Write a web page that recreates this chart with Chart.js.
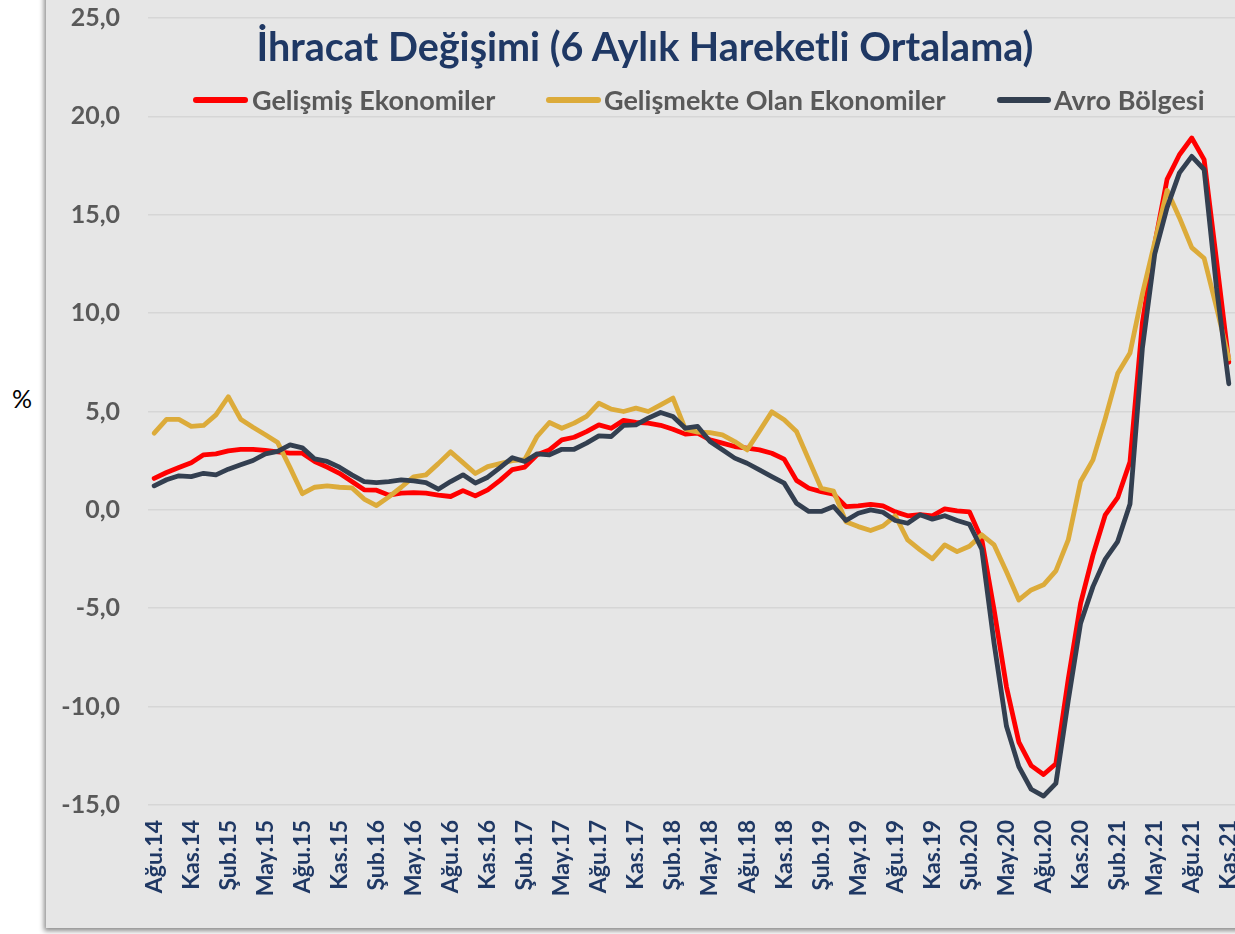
<!DOCTYPE html>
<html>
<head>
<meta charset="utf-8">
<script src="https://cdn.jsdelivr.net/npm/chart.js@4.4.0/dist/chart.umd.min.js"></script>
<style>
  html, body { margin: 0; padding: 0; width: 1235px; height: 934px; overflow: hidden; background: #ffffff; font-family: Lato, "Open Sans", sans-serif; }
  #panel { position: absolute; left: 46px; top: -10px; width: 1220px; height: 938px; background: #e6e6e6; box-shadow: -2px 3px 5px rgba(0,0,0,0.45); overflow: hidden; }
  #wrap { position: absolute; left: 0; top: -15px; width: 1270px; height: 953px; }
  #pct { position: absolute; left: 12px; top: 383px; font-size: 25px; line-height: 30px; color: #000; }
  #title { position: absolute; left: 0; width: 1290px; top: 22px; text-align: center; font-weight: 700; font-size: 39.5px; line-height: 47px; color: #1f3864; white-space: nowrap; }
  .lg { position: absolute; top: 84px; height: 32px; font-weight: 700; font-size: 27px; color: #595959; white-space: nowrap; line-height: 32px; }
  .sw { position: absolute; top: 97px; height: 6px; border-radius: 3px; }
</style>
</head>
<body>
<div id="pct">%</div>
<div id="panel">
  <div id="wrap"><canvas id="c" width="1270" height="953"></canvas></div>
</div>
<div id="title">İhracat Değişimi (6 Aylık Hareketli Ortalama)</div>
<div class="sw" style="left:193px;width:55px;background:#ff0000"></div>
<div class="lg" style="left:252px">Gelişmiş Ekonomiler</div>
<div class="sw" style="left:546px;width:55px;background:#dcab3a"></div>
<div class="lg" style="left:604px">Gelişmekte Olan Ekonomiler</div>
<div class="sw" style="left:997px;width:54px;background:#333f50"></div>
<div class="lg" style="left:1054px">Avro Bölgesi</div>
<script>
const months = [
  "Ağu.14","Eyl.14","Eki.14","Kas.14","Ara.14",
  "Oca.15","Şub.15","Mar.15","Nis.15","May.15","Haz.15","Tem.15","Ağu.15","Eyl.15","Eki.15","Kas.15","Ara.15",
  "Oca.16","Şub.16","Mar.16","Nis.16","May.16","Haz.16","Tem.16","Ağu.16","Eyl.16","Eki.16","Kas.16","Ara.16",
  "Oca.17","Şub.17","Mar.17","Nis.17","May.17","Haz.17","Tem.17","Ağu.17","Eyl.17","Eki.17","Kas.17","Ara.17",
  "Oca.18","Şub.18","Mar.18","Nis.18","May.18","Haz.18","Tem.18","Ağu.18","Eyl.18","Eki.18","Kas.18","Ara.18",
  "Oca.19","Şub.19","Mar.19","Nis.19","May.19","Haz.19","Tem.19","Ağu.19","Eyl.19","Eki.19","Kas.19","Ara.19",
  "Oca.20","Şub.20","Mar.20","Nis.20","May.20","Haz.20","Tem.20","Ağu.20","Eyl.20","Eki.20","Kas.20","Ara.20",
  "Oca.21","Şub.21","Mar.21","Nis.21","May.21","Haz.21","Tem.21","Ağu.21","Eyl.21","Eki.21","Kas.21"
];

const gelismis = [
  1.6, 1.9, 2.15, 2.4, 2.8, 2.85, 3.0, 3.08, 3.08, 3.02, 2.95, 2.88, 2.88, 2.46, 2.17, 1.86, 1.44, 1.02, 1.0, 0.75,
  0.85, 0.88, 0.85, 0.75, 0.68, 0.98, 0.71, 1.02, 1.5, 2.05, 2.17, 2.8, 3.05, 3.56, 3.69, 3.98, 4.32, 4.15, 4.55, 4.45,
  4.41, 4.3, 4.1, 3.85, 3.9, 3.56, 3.39, 3.22, 3.14, 3.05, 2.88, 2.58, 1.5, 1.1, 0.93, 0.8, 0.17, 0.2, 0.28, 0.2,
  -0.1, -0.3, -0.24, -0.3, 0.05, -0.05, -0.1, -1.5, -5.1, -9.0, -11.8, -13.0, -13.45, -12.9, -8.6, -4.75, -2.3, -0.25, 0.62, 2.45,
  9.5, 13.5, 16.8, 18.05, 18.9, 17.8, 12.7, 7.5
];

const gelismekte = [
  3.9, 4.6, 4.6, 4.24, 4.29, 4.83, 5.75, 4.61, 4.2, 3.82, 3.42, 2.15, 0.82, 1.15, 1.22, 1.15, 1.12, 0.55, 0.22, 0.66,
  1.15, 1.68, 1.78, 2.35, 2.95, 2.4, 1.85, 2.2, 2.35, 2.5, 2.55, 3.73, 4.44, 4.15, 4.41, 4.75, 5.42, 5.12, 5.0, 5.17,
  5.0, 5.34, 5.68, 4.1, 3.95, 3.93, 3.81, 3.47, 3.05, 4.0, 4.98, 4.58, 3.98, 2.54, 1.1, 0.95, -0.6, -0.85, -1.05, -0.82,
  -0.3, -1.53, -2.03, -2.49, -1.78, -2.12, -1.85, -1.27, -1.78, -3.14, -4.58, -4.07, -3.81, -3.1, -1.53, 1.44, 2.54, 4.65, 6.93, 7.97,
  10.97, 13.6, 16.24, 14.85, 13.33, 12.79, 10.3, 7.68
];

const avro = [
  1.22, 1.53, 1.73, 1.69, 1.86, 1.78, 2.07, 2.29, 2.51, 2.85, 2.97, 3.3, 3.15, 2.59, 2.46, 2.17, 1.78, 1.44, 1.39, 1.44,
  1.52, 1.47, 1.39, 1.05, 1.44, 1.78, 1.36, 1.66, 2.15, 2.65, 2.46, 2.85, 2.8, 3.08, 3.08, 3.39, 3.76, 3.73, 4.29, 4.32,
  4.66, 4.95, 4.75, 4.15, 4.24, 3.47, 3.05, 2.63, 2.37, 2.03, 1.69, 1.36, 0.34, -0.08, -0.08, 0.17, -0.54, -0.17, 0.0, -0.12,
  -0.54, -0.68, -0.25, -0.47, -0.3, -0.54, -0.73, -2.0, -6.8, -11.0, -13.05, -14.2, -14.55, -13.9, -9.7, -5.76, -3.9, -2.5, -1.61, 0.3,
  8.2, 13.0, 15.36, 17.13, 17.97, 17.3, 11.3, 6.41
];

const yMin = -15, yMax = 25, yStep = 5;

function ds(label, data, color, order) {
  return { label, data, borderColor: color, backgroundColor: color, borderWidth: 4.8,
    pointRadius: 0, tension: 0, borderCapStyle: 'round', borderJoinStyle: 'round', order, clip: 0 };
}

new Chart(document.getElementById('c'), {
  type: 'line',
  data: {
    labels: months,
    datasets: [
      ds('Gelişmiş Ekonomiler', gelismis, '#ff0000', 3),
      ds('Gelişmekte Olan Ekonomiler', gelismekte, '#dcab3a', 2),
      ds('Avro Bölgesi', avro, '#333f50', 1)
    ]
  },
  options: {
    responsive: false,
    animation: false,
    layout: { padding: { top: 0, right: 81, bottom: 0, left: 0 } },
    plugins: { legend: { display: false }, title: { display: false }, tooltip: { enabled: false } },
    scales: {
      x: {
        offset: true,
        grid: { display: false, drawTicks: false },
        border: { display: false },
        ticks: {
          autoSkip: false, maxRotation: 90, minRotation: 90, padding: 15,
          color: '#1f3864', font: { family: 'Lato', weight: 'bold', size: 23 },
          callback: function(v, i) { return i % 3 === 0 ? this.getLabelForValue(v) : null; }
        },
        afterFit: (s) => { s.height = 123; }
      },
      y: {
        min: yMin, max: yMax,
        grid: { color: '#d6d6d6', lineWidth: 1.6, drawTicks: false },
        border: { display: false },
        ticks: {
          stepSize: yStep, padding: 28, color: '#595959',
          font: { family: 'Lato', weight: 'bold', size: 25 },
          callback: (v) => v.toFixed(1).replace('.', ',')
        },
        afterFit: (s) => { s.width = 102; }
      }
    }
  }
});
</script>
</body>
</html>
